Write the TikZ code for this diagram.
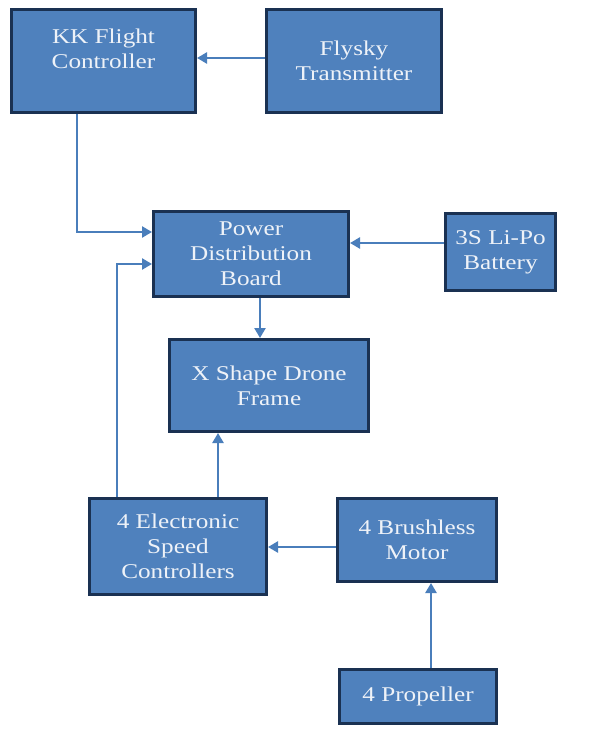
\documentclass[tikz,border=0pt]{standalone}
\usepackage{fontspec}
\setmainfont[FakeStretch=1.2]{Liberation Serif}
\usetikzlibrary{arrows.meta}
\definecolor{boxfill}{HTML}{4F81BD}
\definecolor{boxedge}{HTML}{1A3152}
\definecolor{linkblue}{HTML}{4A7EBB}
\definecolor{boxtext}{HTML}{EEF2F8}
\begin{document}
\begin{tikzpicture}[x=1pt,y=-1pt,
    block/.style={draw=boxedge,line width=3pt,fill=boxfill,text=boxtext,
      align=center,font=\fontsize{21}{25}\selectfont,inner sep=0pt},
    link/.style={linkblue,line width=2.4pt,-{Triangle[length=10pt,width=11pt]}}]
    \useasboundingbox (0,0) rectangle (590,730);

    \node[block,minimum width=184pt,minimum height=103pt] (kk) at (103.5,61) {KK Flight\\Controller\\\mbox{}};
    \node[block,minimum width=175pt,minimum height=103pt] (fly) at (354,61) {Flysky\\Transmitter};
    \node[block,minimum width=195pt,minimum height=85pt] (pdb) at (251,254) {Power\\Distribution\\Board};
    \node[block,minimum width=110pt,minimum height=77pt] (bat) at (500.5,252) {3S Li-Po\\Battery};
    \node[block,minimum width=199pt,minimum height=92pt] (frame) at (269,385.5) {X Shape Drone\\Frame};
    \node[block,minimum width=177pt,minimum height=96pt] (esc) at (178,546.5) {4 Electronic\\Speed\\Controllers};
    \node[block,minimum width=159pt,minimum height=83pt] (motor) at (417,540) {4 Brushless\\Motor};
    \node[block,minimum width=157pt,minimum height=54pt] (prop) at (418,696) {4 Propeller};

    % signal and power paths
    \draw[link] ([yshift=3pt]fly.west) -- ([yshift=3pt]fly.west -| kk.east);
    \draw[link] ([xshift=-26.5pt]kk.south) |- ([yshift=22pt]pdb.west);
    \draw[link] ([yshift=9pt]bat.west) -- ([yshift=9pt]bat.west -| pdb.east);
    \draw[link] ([xshift=9pt]pdb.south) -- ([xshift=9pt]pdb.south |- frame.north);
    \draw[link] ([xshift=-61pt]esc.north) |- ([yshift=-10pt]pdb.west);
    \draw[link] ([xshift=40pt]esc.north) -- ([xshift=40pt]esc.north |- frame.south);
    \draw[link] ([yshift=-7pt]motor.west) -- ([yshift=-7pt]motor.west -| esc.east);
    \draw[link] ([xshift=13pt]prop.north) -- ([xshift=13pt]prop.north |- motor.south);
  \end{tikzpicture}
\end{document}
